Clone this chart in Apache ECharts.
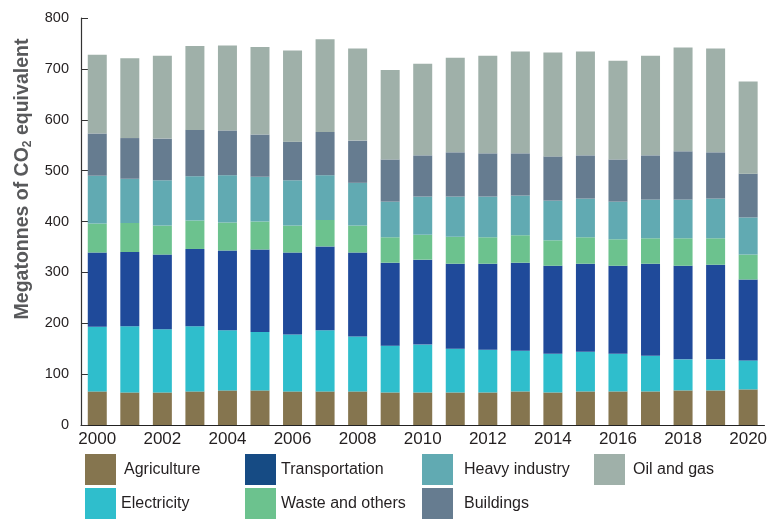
<!DOCTYPE html>
<html>
<head>
<meta charset="utf-8">
<script src="https://cdn.jsdelivr.net/npm/echarts@6/dist/echarts.min.js"></script>
<style>html,body{margin:0;padding:0;background:#fff}#c{width:770px;height:519px}</style>
</head>
<body>
<div id="c"></div>
<script>
const years = ['2000','2001','2002','2003','2004','2005','2006','2007','2008','2009','2010','2011','2012','2013','2014','2015','2016','2017','2018','2019','2020'];
const agriculture = [66,64,64,66,68,68,66,66,66,64,64,64,64,66,64,66,66,66,68,68,70];
const electricity = [127,130,124,128,118,115,112,120,108,92,94,86,84,80,76,78,74,70,61,61,57];
const transportation = [146,146,147,152,157,162,161,165,165,163,167,167,169,173,173,173,173,181,184,186,159];
const wasteOthers = [57,57,57,56,55,55,53,52,53,50,49,53,52,54,50,52,52,50,54,52,49];
const heavyIndustry = [94,87,89,87,93,88,89,88,84,70,75,79,80,78,78,76,74,76,76,78,73];
const buildings = [83,80,82,91,88,83,76,85,83,83,81,87,85,83,87,85,83,87,95,91,86];
const oilGas = [155,157,163,165,167,172,179,182,181,176,180,186,192,200,204,204,194,196,204,204,181];
const yTicks = [0,100,200,300,400,500,600,700,800];

const FONT = "'Liberation Sans',Arial,sans-serif";
const TXT = '#231f20';

const seriesDefs = [
  {name:'Agriculture', data:agriculture, color:'#85754f', legendColor:'#85754f', left:85, top:454, pad:[0,0,0,3]},
  {name:'Electricity', data:electricity, color:'#2fbecc', legendColor:'#2fbecc', left:85, top:488, pad:[0,0,0,0]},
  {name:'Transportation', data:transportation, color:'#1f4a9a', legendColor:'#164b84', left:245, top:454, pad:[0,0,0,0]},
  {name:'Waste and others', data:wasteOthers, color:'#6cc28e', legendColor:'#6cc28e', left:245, top:488, pad:[0,0,0,0]},
  {name:'Heavy industry', data:heavyIndustry, color:'#61aab2', legendColor:'#61aab2', left:422, top:454, pad:[4,0,0,6]},
  {name:'Buildings', data:buildings, color:'#667c90', legendColor:'#667c90', left:422, top:488, pad:[10,0,0,6]},
  {name:'Oil and gas', data:oilGas, color:'#9fb0a9', legendColor:'#9fb0a9', left:594, top:454, pad:[2,0,0,3]}
];

const order = ['Agriculture','Electricity','Transportation','Waste and others','Heavy industry','Buildings','Oil and gas'];

const chart = echarts.init(document.getElementById('c'), null, {renderer:'canvas'});
chart.setOption({
  animation:false,
  backgroundColor:'#fff',
  grid:{left:81, right:3, top:18, bottom:94, containLabel:false},
  xAxis:{
    type:'category', data:years,
    axisLine:{lineStyle:{color:'#222', width:1.2}},
    axisTick:{inside:true, length:9, interval:0, lineStyle:{color:'#222'}},
    axisLabel:{interval:1, fontFamily:FONT, fontSize:17, color:TXT, margin:6}
  },
  yAxis:{
    type:'value', min:0, max:800, interval:100,
    axisLine:{show:true, lineStyle:{color:'#333', width:1.2}},
    axisTick:{show:true, inside:true, length:7, lineStyle:{color:'#333'}},
    splitLine:{show:false},
    axisLabel:{fontFamily:FONT, fontSize:14.5, color:TXT, margin:12,
      formatter:v => yTicks.includes(v) ? String(v) : ''}
  },
  legend: seriesDefs.map(s => ({
    left:s.left, top:s.top, padding:0, itemWidth:31, itemHeight:31, icon:'rect',
    selectedMode:false,
    textStyle:{fontFamily:FONT, fontSize:16, color:TXT, padding:s.pad},
    data:[{name:s.name, itemStyle:{color:s.legendColor}}]
  })),
  graphic:[{
    type:'text', x:23, y:179, rotation:Math.PI/2,
    style:{
      text:'Megatonnes of CO{sub|2} equivalent',
      font:"bold 19.5px " + FONT,
      fill:'#58595b', align:'center', verticalAlign:'middle',
      rich:{sub:{fontSize:12, fontWeight:'bold', fontFamily:FONT, fill:'#58595b', padding:[10,0,0,0]}}
    }
  }],
  series: order.map(n => {
    const s = seriesDefs.find(d => d.name === n);
    return {name:s.name, type:'bar', stack:'total', barWidth:19, data:s.data,
      itemStyle:{color:s.color}, emphasis:{disabled:true}};
  })
});
</script>
</body>
</html>
